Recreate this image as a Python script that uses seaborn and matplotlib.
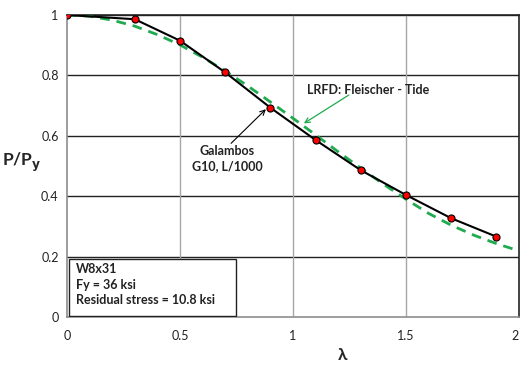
import numpy as np
import pandas as pd
import matplotlib
matplotlib.use("Agg")
import matplotlib.pyplot as plt
import seaborn as sns
from matplotlib.patches import Rectangle, FancyArrowPatch

# Galambos G10, L/1000 curve
lam_g = [0.0, 0.3, 0.5, 0.7, 0.9, 1.1, 1.3, 1.5, 1.7, 1.9]
p_g = [1.0, 0.986, 0.915, 0.810, 0.693, 0.586, 0.486, 0.404, 0.327, 0.266]

# LRFD: Fleischer - Tide curve
lam_l = [0.0, 0.1, 0.2, 0.3, 0.4, 0.5, 0.6, 0.7, 0.8, 0.9, 1.0,
         1.1, 1.2, 1.3, 1.4, 1.5, 1.6, 1.7, 1.8, 1.9, 2.0]
p_l = [1.0, 0.996, 0.983, 0.963, 0.935, 0.901, 0.860, 0.815, 0.765, 0.712, 0.658,
       0.603, 0.547, 0.493, 0.440, 0.390, 0.343, 0.304, 0.271, 0.243, 0.219]

x_ticks = [0, 0.5, 1, 1.5, 2]
x_tick_labels = ["0", "0.5", "1", "1.5", "2"]
y_ticks = [0, 0.2, 0.4, 0.6, 0.8, 1.0]
y_tick_labels = ["0", "0.2", "0.4", "0.6", "0.8", "1"]

sns.set_theme(style="white")
plt.rcParams['font.family'] = ['Lato', 'DejaVu Sans']

df_g = pd.DataFrame({"lam": lam_g, "p": p_g})
df_l = pd.DataFrame({"lam": lam_l, "p": p_l})

fig = plt.figure(figsize=(5.23, 3.65), dpi=100)
ax = fig.add_axes([67/523, 1 - 317/365, 452/523, 302/365])

# grid
for yv in y_ticks[1:]:
    ax.axhline(yv, color="#222222", lw=1.0, zorder=1)
for xv in x_ticks[1:-1]:
    ax.axvline(xv, color="#a6a6a6", lw=1.0, zorder=1)

sns.lineplot(data=df_l, x="lam", y="p", ax=ax, color="#1faa4f", lw=2.0,
             linestyle=(0, (3.5, 2.5)), zorder=3)
sns.lineplot(data=df_g, x="lam", y="p", ax=ax, color="black", lw=1.5, zorder=4)
sns.scatterplot(data=df_g, x="lam", y="p", ax=ax, color="#ff0000", edgecolor="black",
                linewidth=0.8, s=26, zorder=5)

ax.set_xlim(0, 2)
ax.set_ylim(0, 1)
ax.set_xticks(x_ticks)
ax.set_xticklabels(x_tick_labels)
ax.set_yticks(y_ticks)
ax.set_yticklabels(y_tick_labels)
ax.tick_params(axis="both", labelsize=9, colors="#222222", length=0, pad=6)
ax.tick_params(axis="x", pad=9)
ax.get_xticklabels()[-1].set_horizontalalignment("right")
ax.set_xlabel("")
ax.set_ylabel("")

for side in ["top", "right"]:
    ax.spines[side].set_color("#222222")
    ax.spines[side].set_linewidth(1.2)
for side in ["left", "bottom"]:
    ax.spines[side].set_color("#8c8c8c")
    ax.spines[side].set_linewidth(1.2)

fig.text(22/523, 1 - 162/365, "P/P$_\\mathbf{y}$", fontsize=12.5, fontweight="bold",
         ha="center", va="center")
fig.text(343/523, 1 - 355/365, "λ", fontsize=12.5, fontweight="bold",
         ha="center", va="center")

# LRFD label + arrow
ax.text(1.06, 0.75, "LRFD: Fleischer - Tide", fontsize=9, fontweight="bold",
        ha="left", va="center", color="#222222", zorder=6)
ax.add_patch(FancyArrowPatch((1.247, 0.735), (1.048, 0.641), arrowstyle="->",
                             mutation_scale=9, color="#1faa4f", lw=0.9,
                             shrinkA=0, shrinkB=0, zorder=6))

# Galambos label + arrow
ax.text(0.709, 0.525, "Galambos\nG10, L/1000", fontsize=9, fontweight="bold",
        ha="center", va="center", color="#222222", linespacing=1.25, zorder=6)
ax.add_patch(FancyArrowPatch((0.726, 0.575), (0.880, 0.688), arrowstyle="->",
                             mutation_scale=9, color="black", lw=0.8,
                             shrinkA=0, shrinkB=0, zorder=8))

# info box
ax.add_patch(Rectangle((0.009, 0.002), 0.74, 0.19, fc="white", ec="#222222",
                       lw=1.0, zorder=6))
ax.text(0.038, 0.178, "W8x31\nFy = 36 ksi\nResidual stress = 10.8 ksi",
        fontsize=9, fontweight="bold", ha="left", va="top", color="#222222",
        linespacing=1.35, zorder=7)

fig.savefig("out.png", dpi=100)
